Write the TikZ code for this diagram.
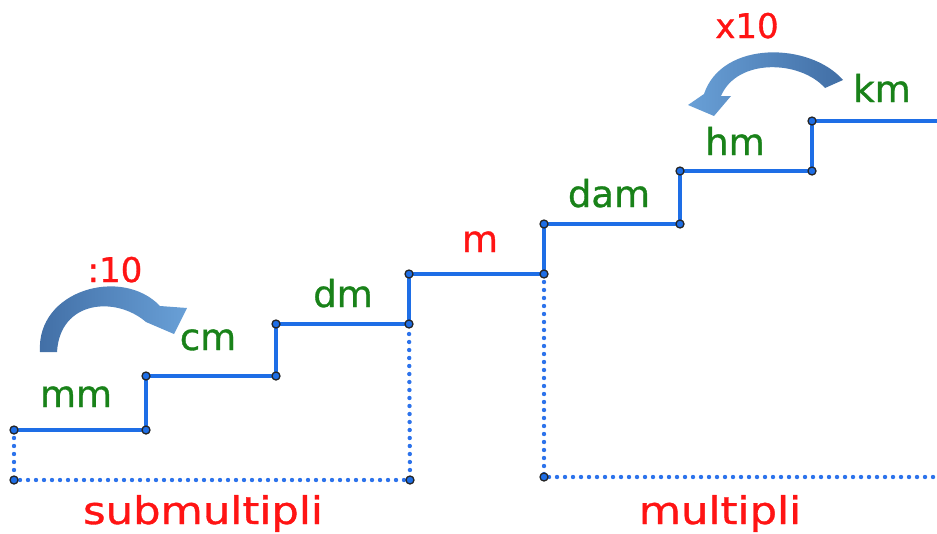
\documentclass[tikz,border=0pt]{standalone}
\usepackage{fontspec}
\setmainfont{DejaVu Sans}[FakeBold=0.9]
\usetikzlibrary{shadings}
\definecolor{stepblue}{RGB}{30,110,230}
\definecolor{dotblue}{RGB}{45,115,235}
\definecolor{lblgreen}{RGB}{25,130,25}
\definecolor{lblred}{RGB}{255,20,20}
\definecolor{arrdark}{RGB}{65,110,165}
\definecolor{arrlight}{RGB}{105,160,215}
\tikzset{
  stair/.style={draw=stepblue, line width=3.8pt, line join=miter},
  guide/.style={draw=dotblue, line width=4.4pt, line cap=round, dash pattern=on 0pt off 8pt},
  pt/.style={circle, draw=black!85, fill=stepblue, line width=1.3pt, inner sep=0pt, minimum size=8pt},
  unit/.style={text=lblgreen, font=\fontsize{37}{40}\selectfont, inner sep=0pt, anchor=base},
  munit/.style={text=lblred, font=\fontsize{37}{40}\selectfont, inner sep=0pt, anchor=base},
  note/.style={text=lblred, font=\fontsize{34}{38}\selectfont, inner sep=0pt, anchor=base},
  group/.style={text=lblred, font=\fontsize{38}{42}\selectfont, inner sep=0pt, anchor=base, xscale=1.14},
}
\begin{document}
\begin{tikzpicture}[x=1pt,y=-1pt]
\useasboundingbox (0,0) rectangle (937,533);
% corner points
\coordinate (a0) at (14,430);
\coordinate (a1) at (146,430);
\coordinate (b0) at (146,376);
\coordinate (b1) at (276,376);
\coordinate (c0) at (276,324);
\coordinate (c1) at (409,324);
\coordinate (d0) at (409,274);
\coordinate (d1) at (544,274);
\coordinate (e0) at (544,224);
\coordinate (e1) at (680,224);
\coordinate (f0) at (680,171);
\coordinate (f1) at (812,171);
\coordinate (g0) at (812,121);
\coordinate (g1) at (937,121);
\coordinate (h0) at (14,480);
\coordinate (h1) at (410,480);
\coordinate (k0) at (544,477);
\coordinate (k1) at (937,477);
% dotted guides
\draw[guide] (a0) -- (h0) -- (h1) -- (c1);
\draw[guide] (d1) -- (k0) -- (k1);
% stairs
\draw[stair] (a0) -- (a1) -- (b0) -- (b1) -- (c0) -- (c1) -- (d0) -- (d1) -- (e0) -- (e1) -- (f0) -- (f1) -- (g0) -- (g1);
% dots
\foreach \p in {a0,a1,b0,b1,c0,c1,d0,d1,e0,e1,f0,f1,g0,h0,h1,k0}
  \node[pt] at (\p) {};
% labels
\node[unit] (mm) at (76,407) {mm};
\node[unit] (cm) at (208,350) {cm};
\node[unit] (dm) at (343,307) {dm};
\node[munit] (m) at (480,252) {m};
\node[unit] (dam) at (609,207) {dam};
\node[unit] (hm) at (735,155) {hm};
\node[unit] (km) at (882,102) {km};
\node[note] (div) at (115,282) {:10};
\node[note] (mul) at (747,38) {x10};
\node[group] (sub) at (203,524) {submultipli};
\node[group] (mult) at (720,524) {multipli};
% curved arrows
\shade[left color=arrdark, right color=arrlight]
  (40,352) .. controls (36,290) and (122,266) .. (160,306)
  -- (187,308) -- (174,334) -- (146,322)
  .. controls (116,296) and (60,300) .. (57,352) -- cycle;
\shade[left color=arrlight, right color=arrdark]
  (843,80) .. controls (810,42) and (722,40) .. (704,94)
  -- (688,105) -- (714,116) -- (731,96) -- (721,96)
  .. controls (737,58) and (800,60) .. (825,88) -- cycle;
\end{tikzpicture}
\end{document}
